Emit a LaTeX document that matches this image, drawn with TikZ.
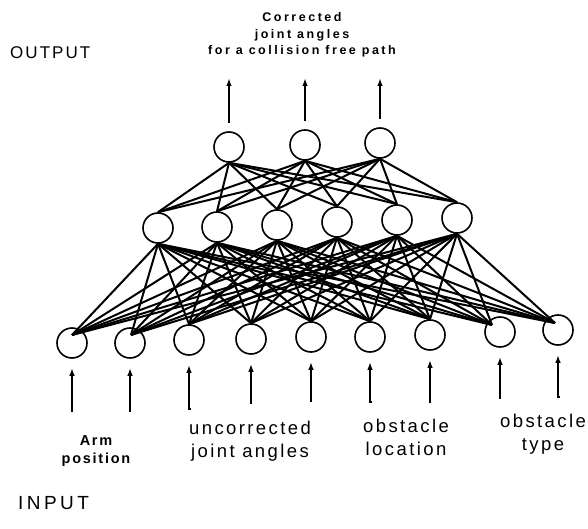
\documentclass[tikz,border=0pt]{standalone}
\usepackage{fontspec}
\setmainfont{Liberation Sans}
\newfontfamily\titlefont[LetterSpace=20]{Liberation Sans Bold}
\newfontfamily\labfont[LetterSpace=13]{Liberation Sans}
\newfontfamily\smallfont[LetterSpace=12]{Liberation Sans Bold}
\newfontfamily\headfont[LetterSpace=12]{Liberation Sans}
\newfontfamily\inpfont[LetterSpace=18]{Liberation Sans}
\usetikzlibrary{arrows.meta}
\tikzset{
  neuron/.style={circle,draw,line width=1.6pt,minimum size=30pt,inner sep=0pt,fill=white},
  link/.style={line width=2pt},
  arr/.style={line width=2pt,-{Latex[length=8pt,width=5.5pt]}},
  lab/.style={align=center,inner sep=0pt}
}
\begin{document}
\begin{tikzpicture}[x=1pt,y=-1pt]
\useasboundingbox (0,0) rectangle (588,529);
% input layer
\foreach \n/\x/\y in {1/72/343,2/130/343,3/189/340,4/251/339,5/311/337,6/370/337,7/430/335,8/500/332,9/558/330}
  \coordinate (ip\n) at (\x,\y);
% hidden layer
\foreach \n/\x/\y in {1/158/228,2/217/227,3/277/225,4/337/222,5/397/220,6/457/218}
  \coordinate (hp\n) at (\x,\y);
% output layer
\foreach \n/\x/\y in {1/229/147,2/305/145,3/380/143}
  \coordinate (op\n) at (\x,\y);
\foreach \n in {1,...,9} \node[neuron] (i\n) at (ip\n) {};
\foreach \n in {1,...,6} \node[neuron] (h\n) at (hp\n) {};
\foreach \n in {1,...,3} \node[neuron] (o\n) at (op\n) {};
% convergence points of the input nodes
\coordinate (c1) at ([shift={(0,-8)}]i1.center);
\coordinate (c2) at ([shift={(1,-8)}]i2.center);
\foreach \n in {3,...,7} \coordinate (c\n) at (i\n.north);
\coordinate (c8) at ([shift={(-8,-7)}]i8.center);
\coordinate (c9) at ([shift={(-3,-7)}]i9.center);
% connections
\foreach \a in {1,...,3}
  \foreach \b in {1,...,6}
    \draw[link] (o\a.south) -- (h\b.north);
\foreach \a in {1,...,6}
  \foreach \b in {1,...,9}
    \draw[link] (h\a.south) -- (c\b);
% input arrows
\foreach \n/\x/\y in {1/72/412,2/130/412,3/191/409,4/250/403,5/311/402,6/372/402,7/431/402,8/501/398,9/560/397}
  \coordinate (ib\n) at (\x,\y);
\foreach \n in {1,...,9}
  \draw[arr,shorten >=9pt] (ib\n) -- (i\n.south |- ib\n) -- (i\n.south);
% output arrows
\foreach \n/\x in {1/229,2/305,3/380}
  \coordinate (ot\n) at (\x,78);
\foreach \n in {1,...,3}
  \draw[arr,shorten <=8pt] (o\n.north) -- (ot\n);
% texts
\node[lab,font=\titlefont\fontsize{12.5}{16.5}\selectfont] (title) at (302,35)
  {Corrected\\joint angles\\for a collision free path};
\node[lab,anchor=west,font=\headfont\fontsize{17}{20}\selectfont] (outlab) at (10,53) {OUTPUT};
\node[lab,anchor=west,font=\inpfont\fontsize{19}{20}\selectfont] (inlab) at (18,503) {INPUT};
\node[lab,font=\smallfont\fontsize{14.5}{18}\selectfont] (arm) at (96,451) {Arm\\position};
\node[lab,font=\labfont\fontsize{18.5}{23}\selectfont] (unc) at (250,441) {uncorrected\\joint angles};
\node[lab,font=\labfont\fontsize{18.5}{23}\selectfont] (obl) at (406,437) {obstacle\\location};
\node[lab,font=\labfont\fontsize{18.5}{23}\selectfont] (obt) at (543,434) {obstacle\\type};
\end{tikzpicture}
\end{document}
